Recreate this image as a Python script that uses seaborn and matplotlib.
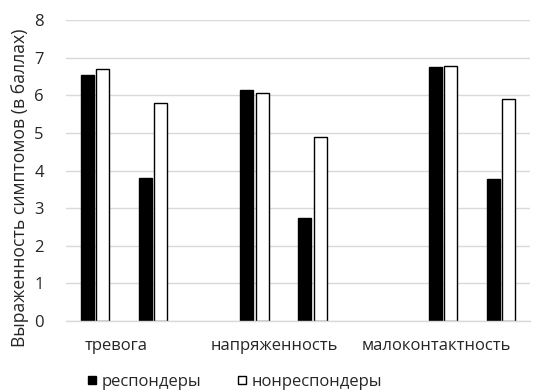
import matplotlib
matplotlib.use("Agg")
import matplotlib.pyplot as plt
from matplotlib.lines import Line2D
import pandas as pd
import seaborn as sns

# Symptom scores, two measurements per scale
categories = ["тревога", "напряженность", "малоконтактность"]
groups = ["респондеры", "нонреспондеры"]
responders = [6.55, 3.80, 6.15, 2.75, 6.76, 3.77]
nonresponders = [6.71, 5.80, 6.07, 4.89, 6.78, 5.89]
y_ticks = [0, 1, 2, 3, 4, 5, 6, 7, 8]

# Layout: x position of each bar pair and of each scale label
pair_pos = [0.5, 1.5, 3.25, 4.25, 6.5, 7.5]
label_pos = [0.87, 3.60, 6.39]

df = pd.DataFrame({
    "pos": pair_pos * 2,
    "score": responders + nonresponders,
    "group": [groups[0]] * len(responders) + [groups[1]] * len(nonresponders),
})

sns.set_theme(style="white")
plt.rcParams["font.family"] = ["Open Sans", "DejaVu Sans"]
text_color = "#262626"

fig = plt.figure(figsize=(5.37, 3.90), dpi=100)
ax = fig.add_axes([0.1229, 0.1769, 0.8641, 0.7718])

sns.barplot(
    data=df, x="pos", y="score", hue="group", hue_order=groups,
    palette={groups[0]: "black", groups[1]: "white"},
    native_scale=True, width=0.534, gap=0.16,
    edgecolor="black", linewidth=1.0, legend=False, ax=ax,
)

ax.set_xlim(0, 8)
ax.set_ylim(0, 8)
ax.set_yticks(y_ticks)
ax.set_yticklabels([str(t) for t in y_ticks], fontsize=12, color=text_color)
ax.set_xticks(label_pos)
ax.set_xticklabels(categories, fontsize=12, color=text_color)
ax.tick_params(axis="x", length=0, pad=12)
ax.tick_params(axis="y", length=0, pad=16)
ax.set_xlabel("")
ax.set_ylabel("Выраженность симптомов (в баллах)", fontsize=12.7, color=text_color)
ax.yaxis.set_label_coords(-0.080, 0.442)

ax.yaxis.grid(True, color="#d9d9d9", linewidth=1.0)
ax.set_axisbelow(True)
for side in ["left", "right", "top"]:
    ax.spines[side].set_visible(False)
ax.spines["bottom"].set_color("#d9d9d9")
ax.spines["bottom"].set_linewidth(1.0)

handles = [
    Line2D([], [], marker="s", linestyle="", markersize=5.5,
           markerfacecolor="black", markeredgecolor="black"),
    Line2D([], [], marker="s", linestyle="", markersize=5.5,
           markerfacecolor="white", markeredgecolor="black", markeredgewidth=1),
]
fig.legend(handles, groups, loc="center", bbox_to_anchor=(0.437, 0.0205),
           ncol=2, frameon=False, fontsize=12, handletextpad=0.3,
           columnspacing=2.1, handlelength=0.6, labelcolor=text_color)

fig.savefig("out.png", dpi=100, facecolor="white")
